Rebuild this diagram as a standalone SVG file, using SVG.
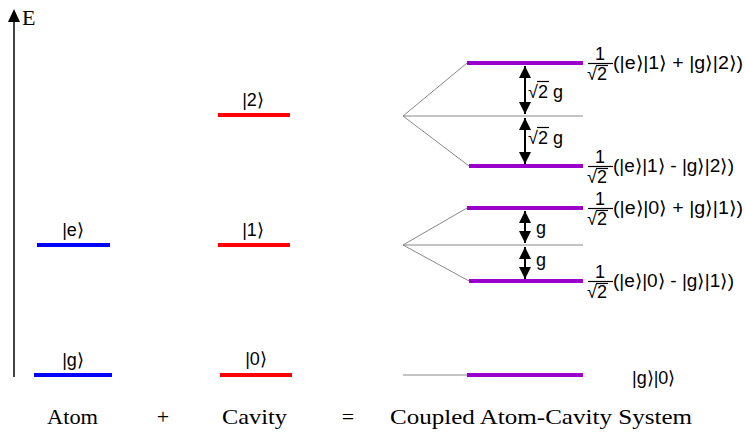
<svg xmlns="http://www.w3.org/2000/svg" width="745" height="437" viewBox="0 0 745 437">
<defs>
<style>
.lbl{font-family:"Liberation Sans",Arial,sans-serif;font-size:18px;fill:#000}
.ser{font-family:"Liberation Serif","DejaVu Serif",serif;font-size:22px;fill:#000}
.blue{stroke:#0000ff;stroke-width:4}
.red{stroke:#ff0000;stroke-width:4}
.pur{stroke:#9900cc;stroke-width:4}
.thin{stroke:#888;stroke-width:1;fill:none}
.bar{stroke:#000;stroke-width:1.2}
.dbl{stroke:#000;stroke-width:2;marker-start:url(#ah);marker-end:url(#ah)}
</style>
<marker id="ah" viewBox="0 0 10 10" refX="10" refY="5" markerWidth="6" markerHeight="6" orient="auto-start-reverse" markerUnits="strokeWidth">
<path d="M0,0 L10,5 L0,10 z" fill="#000"/>
</marker>
</defs>
<rect width="745" height="437" fill="#fff"/>
<g id="axis">
<line x1="14" y1="377" x2="14" y2="20" stroke="#444" stroke-width="2"/>
<path d="M8,22 L14,9 L20,22 z" fill="#000"/>
<text x="22" y="25" class="ser" font-size="20">E</text>
</g>
<g id="connectors">
<line class="thin" x1="403" y1="116" x2="467" y2="63"/>
<line class="thin" x1="403" y1="116" x2="469" y2="166"/>
<line class="thin" x1="403" y1="116" x2="583" y2="116"/>
<line class="thin" x1="403" y1="245" x2="467" y2="208"/>
<line class="thin" x1="403" y1="245" x2="469" y2="281"/>
<line class="thin" x1="403" y1="245" x2="583" y2="245"/>
<line class="thin" x1="403" y1="375" x2="467" y2="375"/>
<line class="dbl" x1="525" y1="66" x2="525" y2="114"/>
<line class="dbl" x1="525" y1="118" x2="525" y2="164"/>
<line class="dbl" x1="525" y1="211" x2="525" y2="243"/>
<line class="dbl" x1="525" y1="247" x2="525" y2="279"/>
</g>
<g id="atom-e"><line class="blue" x1="37" y1="245" x2="110" y2="245"/><text class="lbl" x="73" y="236" text-anchor="middle">|e⟩</text></g>
<g id="atom-g"><line class="blue" x1="34" y1="375" x2="112" y2="375"/><text class="lbl" x="73" y="366" text-anchor="middle">|g⟩</text></g>
<g id="cav-2"><line class="red" x1="218" y1="115" x2="290" y2="115"/><text class="lbl" x="253" y="106" text-anchor="middle">|2⟩</text></g>
<g id="cav-1"><line class="red" x1="218" y1="245" x2="290" y2="245"/><text class="lbl" x="253" y="236" text-anchor="middle">|1⟩</text></g>
<g id="cav-0"><line class="red" x1="220" y1="375" x2="292" y2="375"/><text class="lbl" x="256" y="365" text-anchor="middle">|0⟩</text></g>
<g id="c-plus2">
<line class="pur" x1="467" y1="63" x2="583" y2="63"/>
<text class="lbl" x="600" y="60" text-anchor="middle">1</text>
<line class="bar" x1="588" y1="63.5" x2="613" y2="63.5"/>
<text class="lbl" x="587" y="80">√2</text>
<line class="bar" x1="596" y1="65.5" x2="608" y2="65.5"/>
<text class="lbl" x="613" y="69" textLength="130" lengthAdjust="spacingAndGlyphs">(|e⟩|1⟩ + |g⟩|2⟩)</text>
</g>
<g id="c-minus2">
<line class="pur" x1="469" y1="166" x2="583" y2="166"/>
<text class="lbl" x="600" y="163" text-anchor="middle">1</text>
<line class="bar" x1="588" y1="166.5" x2="613" y2="166.5"/>
<text class="lbl" x="587" y="183">√2</text>
<line class="bar" x1="596" y1="168.5" x2="608" y2="168.5"/>
<text class="lbl" x="613" y="172" textLength="121" lengthAdjust="spacingAndGlyphs">(|e⟩|1⟩ - |g⟩|2⟩)</text>
</g>
<g id="c-plus1">
<line class="pur" x1="467" y1="208" x2="583" y2="208"/>
<text class="lbl" x="600" y="205" text-anchor="middle">1</text>
<line class="bar" x1="588" y1="208.5" x2="613" y2="208.5"/>
<text class="lbl" x="587" y="225">√2</text>
<line class="bar" x1="596" y1="210.5" x2="608" y2="210.5"/>
<text class="lbl" x="613" y="214" textLength="130" lengthAdjust="spacingAndGlyphs">(|e⟩|0⟩ + |g⟩|1⟩)</text>
</g>
<g id="c-minus1">
<line class="pur" x1="469" y1="281" x2="583" y2="281"/>
<text class="lbl" x="600" y="278" text-anchor="middle">1</text>
<line class="bar" x1="588" y1="281.5" x2="613" y2="281.5"/>
<text class="lbl" x="587" y="298">√2</text>
<line class="bar" x1="596" y1="283.5" x2="608" y2="283.5"/>
<text class="lbl" x="613" y="287" textLength="121" lengthAdjust="spacingAndGlyphs">(|e⟩|0⟩ - |g⟩|1⟩)</text>
</g>
<g id="c-ground">
<line class="pur" x1="467" y1="375" x2="583" y2="375"/>
<text class="lbl" x="632" y="384">|g⟩|0⟩</text>
</g>
<g id="split-labels">
<text class="lbl" x="528" y="98">√2 g</text>
<line class="bar" x1="537" y1="81.5" x2="549" y2="81.5"/>
<text class="lbl" x="528" y="144">√2 g</text>
<line class="bar" x1="537" y1="127.5" x2="549" y2="127.5"/>
<text class="lbl" x="536" y="234">g</text>
<text class="lbl" x="536" y="266">g</text>
</g>
<g id="captions">
<text class="ser" x="47" y="424" textLength="51" lengthAdjust="spacingAndGlyphs">Atom</text>
<text class="ser" x="163" y="424" text-anchor="middle">+</text>
<text class="ser" x="222" y="424" textLength="65" lengthAdjust="spacingAndGlyphs">Cavity</text>
<text class="ser" x="348" y="424" text-anchor="middle">=</text>
<text class="ser" x="390" y="424" textLength="302" lengthAdjust="spacingAndGlyphs">Coupled Atom-Cavity System</text>
</g>
</svg>
